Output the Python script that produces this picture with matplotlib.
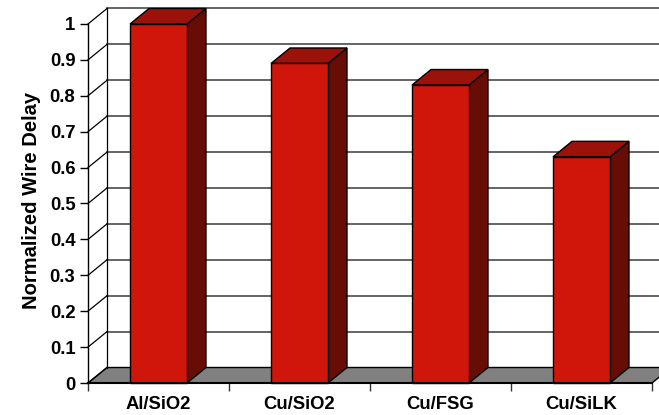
import matplotlib.pyplot as plt
from matplotlib.patches import Polygon

plt.rcParams['font.family'] = ['Liberation Sans', 'DejaVu Sans']
plt.rcParams['font.weight'] = 'bold'

categories = ['Al/SiO2', 'Cu/SiO2', 'Cu/FSG', 'Cu/SiLK']
delay = [1.0, 0.89, 0.83, 0.63]
yticks = [0, 0.1, 0.2, 0.3, 0.4, 0.5, 0.6, 0.7, 0.8, 0.9, 1]
ytick_labels = ['0', '0.1', '0.2', '0.3', '0.4', '0.5', '0.6', '0.7', '0.8', '0.9', '1']

fig = plt.figure(figsize=(6.59, 4.15), dpi=100)
ax = fig.add_axes([88 / 659, 32 / 415, 564 / 659, 359 / 415])
ax.set_xlim(-0.5, 3.5)
ax.set_ylim(0, 1)

# depth of the fake 3d box, in data units
dx = 19 / 141
dy = 15.5 / 359
w = 0.404

front = '#d0160a'
top = '#9a120a'
side = '#680d05'

# floor
floor = Polygon([(-0.5, 0), (3.5, 0), (3.5 + dx, dy), (-0.5 + dx, dy)],
                closed=True, facecolor='#808080', edgecolor='black', lw=1,
                clip_on=False, zorder=1)
ax.add_patch(floor)

# back wall gridlines and left wall diagonals
for v in yticks:
    ax.plot([-0.5, -0.5 + dx], [v, v + dy], color='black', lw=0.9,
            clip_on=False, zorder=2)
    if v > 0:
        ax.plot([-0.5 + dx, 3.5 + dx], [v + dy, v + dy], color='#3a3a3a',
                lw=1.1, clip_on=False, zorder=0.5)
ax.plot([-0.5 + dx, -0.5 + dx], [dy, 1 + dy], color='black', lw=0.9,
        clip_on=False, zorder=2)

# bars
for i, v in enumerate(delay):
    x0, x1 = i - w / 2, i + w / 2
    ax.add_patch(Polygon([(x1, 0), (x1 + dx, dy), (x1 + dx, v + dy), (x1, v)],
                         closed=True, facecolor=side, edgecolor='black',
                         lw=1, clip_on=False, zorder=3))
    ax.add_patch(Polygon([(x0, v), (x1, v), (x1 + dx, v + dy), (x0 + dx, v + dy)],
                         closed=True, facecolor=top, edgecolor='black',
                         lw=1, clip_on=False, zorder=3))
    ax.add_patch(Polygon([(x0, 0), (x1, 0), (x1, v), (x0, v)],
                         closed=True, facecolor=front, edgecolor='black',
                         lw=1, clip_on=False, zorder=4))

for s in ['top', 'right']:
    ax.spines[s].set_visible(False)
ax.spines['left'].set_linewidth(1)
ax.spines['bottom'].set_linewidth(1.5)
ax.spines['bottom'].set_zorder(5)
ax.patch.set_alpha(0)

ax.set_yticks(yticks)
ax.set_yticklabels(ytick_labels, fontsize=13.3, fontweight='bold')
ax.tick_params(axis='y', length=6, width=1, pad=3)

ax.set_xticks([-0.5, 0.5, 1.5, 2.5, 3.5])
ax.set_xticklabels([])
ax.tick_params(axis='x', which='major', length=6, width=1, color='#333333')
ax.set_xticks(range(len(categories)), minor=True)
ax.set_xticklabels(categories, minor=True, fontsize=13.3, fontweight='bold')
ax.tick_params(axis='x', which='minor', length=0, pad=9)

fig.text(32 / 659, 1 - 200 / 415, 'Normalized Wire Delay', rotation=90,
         ha='center', va='center', fontsize=14.5, fontweight='bold')

fig.savefig('out.png', dpi=100)
